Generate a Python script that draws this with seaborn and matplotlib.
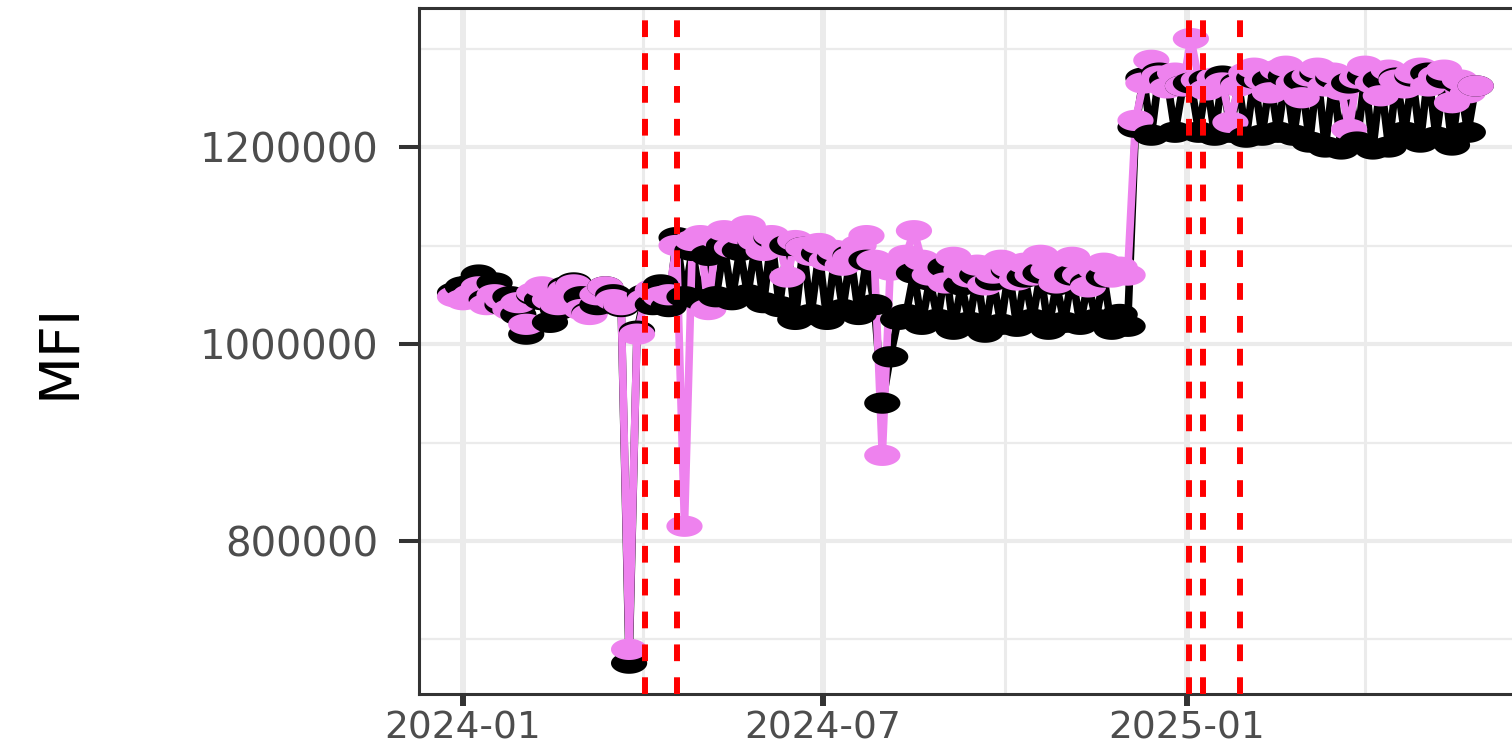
import numpy as np
import pandas as pd
import matplotlib
matplotlib.use("Agg")
import matplotlib.pyplot as plt
import matplotlib.dates as mdates
from matplotlib.path import Path
import seaborn as sns

# fechas de medición (cada 4 días)
fechas = pd.date_range("2023-12-28", periods=130, freq="4D")

# MFI en miles
mfi_negro = [
    1052, 1058, 1060, 1070, 1045, 1062, 1040, 1048, 1030, 1010, 1050, 1045, 1022, 1035, 1058, 1062, 1048, 1032, 1040, 1058, 1050, 1038,
    676, 1013, 1050, 1040, 1060, 1038, 1108, 1048, 1095,
    1045, 1090, 1048, 1100, 1045, 1095, 1050, 1102, 1042, 1108, 1038, 1100, 1025, 1098, 1030, 1092, 1025, 1088, 1035, 1090, 1030, 1085, 1040,
    940, 987, 1025,
    1030, 1072, 1020, 1065, 1025, 1078, 1015, 1060, 1022, 1070, 1012, 1065, 1020, 1075, 1018, 1068, 1025, 1072, 1015, 1060, 1022, 1070, 1020, 1062, 1025, 1068, 1015, 1030, 1018,
    1220, 1270, 1212, 1275, 1268, 1215, 1262, 1265, 1215, 1268, 1212, 1272, 1215, 1265, 1210, 1270, 1212, 1268, 1215, 1272, 1212, 1268,
    1205, 1275, 1200, 1270, 1198, 1265, 1205, 1272, 1198, 1268, 1200, 1270, 1215, 1272, 1205, 1275, 1210, 1270, 1202, 1265, 1215, 1262,
]
mfi_violeta = [
    1048, 1045, 1050, 1058, 1040, 1050, 1045, 1035, 1042, 1020, 1052, 1058, 1045, 1040, 1055, 1060, 1035, 1030, 1050, 1058, 1045, 1040,
    690, 1010, 1045, 1055, 1048, 1050, 1100, 815, 1105,
    1110, 1035, 1108, 1115, 1098, 1112, 1120, 1105, 1095, 1110, 1100, 1068, 1105, 1098, 1090, 1102, 1085, 1095, 1080, 1088, 1100, 1110, 1085,
    887, 1075, 1080,
    1090, 1115, 1085, 1070, 1078, 1062, 1088, 1075, 1068, 1080, 1060, 1072, 1085, 1078, 1065, 1082, 1070, 1090, 1075, 1062, 1080, 1088, 1070, 1058, 1075, 1082, 1068, 1078, 1070,
    1227, 1265, 1288, 1272, 1260, 1275, 1262, 1310, 1268, 1258, 1270, 1265, 1225, 1262, 1275, 1280, 1268, 1255, 1278, 1282, 1265, 1250,
    1272, 1280, 1262, 1275, 1258, 1218, 1270, 1282, 1265, 1252, 1278, 1268, 1260, 1275, 1280, 1262, 1272, 1278, 1245, 1268, 1255, 1262,
]

eventos = ["2024-04-02", "2024-04-18", "2025-01-02", "2025-01-09", "2025-01-28"]
ticks_x = ["2024-01-01", "2024-07-01", "2025-01-01"]
ticks_x_menores = ["2024-04-01", "2024-10-01", "2025-04-01"]
ticks_y = [800000, 1000000, 1200000]
ticks_y_menores = [700000, 900000, 1100000, 1300000]
colores = {"negro": "black", "violeta": "violet"}

df_n = pd.DataFrame({"fecha": fechas, "miles": mfi_negro, "serie": "negro"})
df_v = pd.DataFrame({"fecha": fechas, "miles": mfi_violeta, "serie": "violeta"})
df = pd.concat([df_n, df_v]).sort_values("fecha", kind="stable").reset_index(drop=True)
df["MFI"] = df["miles"] * 1000

sns.set_style("white")
plt.rcParams["font.family"] = ["DejaVu Sans"]

fig = plt.figure(figsize=(15.12, 7.49), dpi=100)
ax = fig.add_axes([419 / 1512, 1 - 694 / 749, 1 - 419 / 1512, 686 / 749])

# marcador elíptico
t = np.linspace(0, 2 * np.pi, 64)
elipse = Path(np.column_stack([1.7 * np.cos(t), np.sin(t)]))

sns.lineplot(data=df, x="fecha", y="MFI", hue="serie", hue_order=["negro", "violeta"],
             palette=colores, linewidth=5.5, estimator=None, legend=False, ax=ax, zorder=2)
sns.scatterplot(data=df, x="fecha", y="MFI", hue="serie", hue_order=["negro", "violeta"],
                palette=colores, marker=elipse, s=680, linewidth=0, legend=False, ax=ax, zorder=3)

for e in eventos:
    ax.axvline(pd.Timestamp(e), color="red", lw=4.3, ls=(0, (2.8, 2.7)), zorder=4)

ax.set_xlim(pd.Timestamp("2023-12-09 19:00"), pd.Timestamp("2025-06-14 08:00"))
ax.set_ylim(644670, 1341117)

ax.set_xticks([pd.Timestamp(d) for d in ticks_x])
ax.set_xticks([pd.Timestamp(d) for d in ticks_x_menores], minor=True)
ax.xaxis.set_major_formatter(mdates.DateFormatter("%Y-%m"))
ax.set_yticks(ticks_y)
ax.set_yticks(ticks_y_menores, minor=True)
ax.yaxis.set_major_formatter(matplotlib.ticker.FuncFormatter(lambda v, p: f"{int(v)}"))

ax.set_axisbelow(True)
ax.grid(which="major", axis="x", color="#EBEBEB", lw=4.3)
ax.grid(which="minor", axis="x", color="#EBEBEB", lw=2.2)
ax.grid(which="major", axis="y", color="#EBEBEB", lw=3)
ax.grid(which="minor", axis="y", color="#EBEBEB", lw=1.6)

ax.tick_params(axis="x", which="major", length=8.6, width=4.3, color="#333333",
               labelcolor="#4D4D4D", labelsize=27, pad=3, bottom=True)
ax.tick_params(axis="y", which="major", length=14.4, width=2.9, color="#333333",
               labelcolor="#4D4D4D", labelsize=29, pad=15, left=True)
ax.tick_params(which="minor", length=0)

for lado in ["left", "top", "bottom"]:
    ax.spines[lado].set_color("#333333")
    ax.spines[lado].set_linewidth(2.2)
ax.spines["right"].set_visible(False)

ax.set_xlabel("")
ax.set_ylabel("MFI", fontsize=40, color="black")
ax.yaxis.set_label_coords(-0.304, 0.5)

plt.savefig("out.png", dpi=100)
plt.close()
